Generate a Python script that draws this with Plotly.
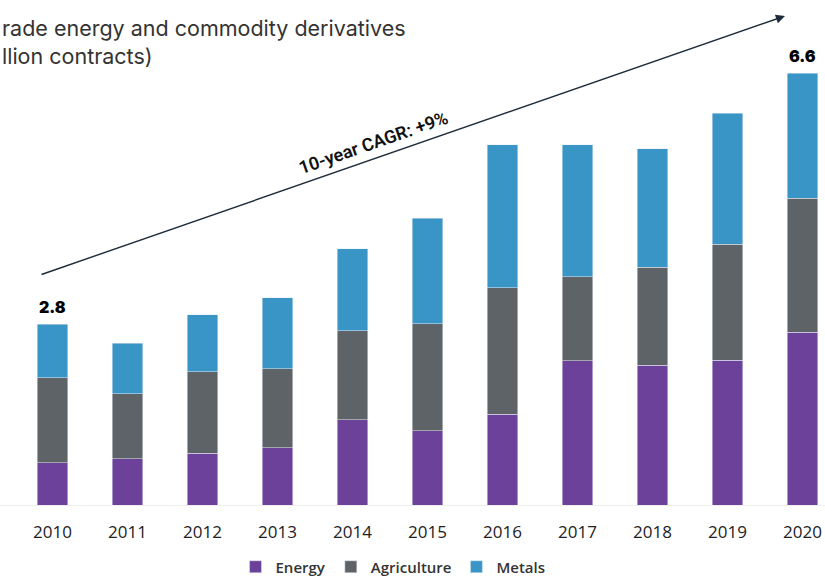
import plotly.graph_objects as go

years = ["2010", "2011", "2012", "2013", "2014", "2015", "2016", "2017", "2018", "2019", "2020"]
energy = [0.65, 0.71, 0.80, 0.88, 1.31, 1.14, 1.40, 2.22, 2.15, 2.23, 2.66]
agriculture = [1.31, 1.00, 1.25, 1.22, 1.37, 1.65, 1.94, 1.29, 1.51, 1.78, 2.06]
metals = [0.82, 0.78, 0.88, 1.09, 1.26, 1.62, 2.20, 2.03, 1.82, 2.02, 1.92]
total_labels = {"2010": "2.8", "2020": "6.6"}
title_text = "rade energy and commodity derivatives<br>llion contracts)"
cagr_text = "10-year CAGR: +9%"

W, H = 825, 581
ML, MR, MT, MB = 0, 0, 0, 76
PH = H - MT - MB

def px(x):
    return x / W

def py(y):
    return (PH - y) / PH

fig = go.Figure()
fig.add_bar(x=years, y=energy, name="Energy", marker_color="#6B4199")
fig.add_bar(x=years, y=agriculture, name="Agriculture", marker_color="#5E6368")
fig.add_bar(x=years, y=metals, name="Metals", marker_color="#3A95C7")

totals = [e + a + m for e, a, m in zip(energy, agriculture, metals)]
for yr, lab in total_labels.items():
    i = years.index(yr)
    fig.add_annotation(x=i, y=totals[i], xref="x", yref="y", text=lab, showarrow=False,
                       yanchor="bottom", yshift=5,
                       font=dict(family="Inter", size=16, color="#000", weight=900))

# arrow
fig.add_annotation(xref="paper", yref="paper", x=px(785), y=py(16), ax=40 - 785, ay=275 - 16,
                   axref="pixel", ayref="pixel", text="", showarrow=True,
                   arrowhead=2, arrowsize=1.3, arrowwidth=1.4, arrowcolor="#1c2b3a")
fig.add_annotation(xref="paper", yref="paper", x=px(373), y=py(104), text=cagr_text,
                   showarrow=False, textangle=-19.2,
                   font=dict(family="Roboto", size=18, color="#111", weight=600))
fig.add_annotation(xref="paper", yref="paper", x=0, y=py(13), xanchor="left", yanchor="top",
                   align="left", text=title_text, showarrow=False,
                   font=dict(family="Inter", size=21.5, color="#333"))

fig.update_layout(
    width=W, height=H, barmode="stack", bargap=0.59,
    margin=dict(l=ML, r=MR, t=MT, b=MB, autoexpand=False),
    paper_bgcolor="white", plot_bgcolor="white",
    showlegend=True,
    legend=dict(orientation="h", x=px(393), xanchor="center", y=py(567), yanchor="middle",
                font=dict(family="Open Sans", size=15, color="#333", weight=600),
                itemwidth=30, traceorder="normal"),
    xaxis=dict(type="category", range=[-0.7, 10.3], showgrid=False, showline=True,
               linecolor="#eeeeee", ticks="", ticklabelstandoff=12,
               tickfont=dict(family="Open Sans", size=17, color="#222", weight=500)),
    yaxis=dict(range=[0, PH / 65.0], showgrid=False, showticklabels=False, zeroline=False),
)
fig.write_html("out.html")
